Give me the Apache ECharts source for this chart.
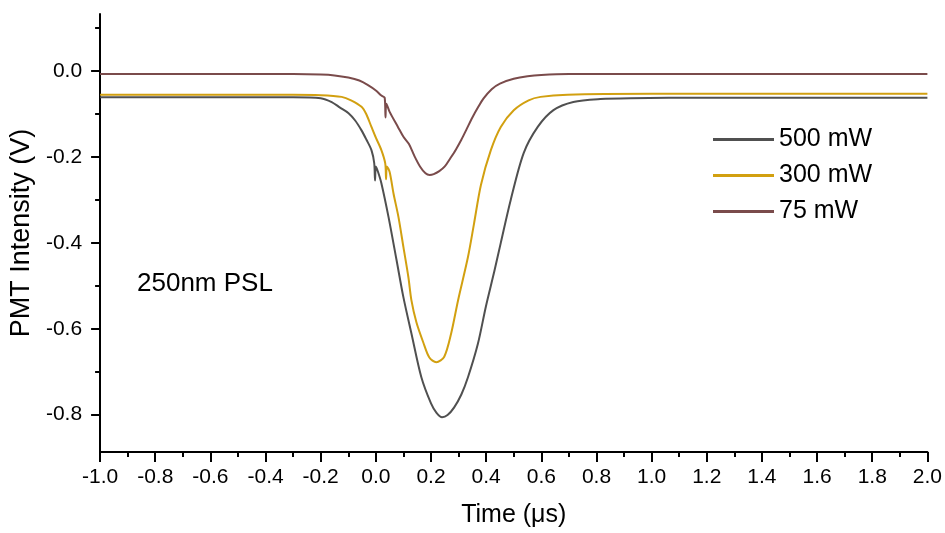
<!DOCTYPE html>
<html>
<head>
<meta charset="utf-8">
<script src="https://cdn.jsdelivr.net/npm/echarts@6/dist/echarts.min.js"></script>
<style>
html,body{margin:0;padding:0;background:#fff;}
#c{width:945px;height:533px;}
</style>
</head>
<body>
<div id="c"></div>
<script>
// ---- data ----
const seriesNames = ['500 mW', '300 mW', '75 mW'];

const t500 = [-1.0, -0.5, -0.3, -0.2, -0.16, -0.13, -0.099, -0.075, -0.052, -0.034, -0.016, -0.006, -0.003, 0.0, 0.008, 0.02, 0.046, 0.075, 0.1, 0.129, 0.165, 0.2, 0.22, 0.24, 0.26, 0.284, 0.31, 0.334, 0.37, 0.399, 0.43, 0.453, 0.489, 0.536, 0.587, 0.644, 0.716, 0.814, 0.922, 1.2, 1.6, 2.0];
const v500 = [-0.061, -0.061, -0.061, -0.063, -0.072, -0.085, -0.098, -0.115, -0.138, -0.16, -0.184, -0.214, -0.255, -0.222, -0.235, -0.261, -0.34, -0.44, -0.527, -0.611, -0.713, -0.774, -0.796, -0.806, -0.801, -0.783, -0.753, -0.713, -0.635, -0.548, -0.465, -0.4, -0.3, -0.191, -0.13, -0.091, -0.072, -0.065, -0.063, -0.062, -0.062, -0.062];

const t300 = [-1.0, -0.5, -0.3, -0.2, -0.124, -0.09, -0.052, -0.035, -0.016, 0.0, 0.02, 0.034, 0.037, 0.040, 0.05, 0.064, 0.082, 0.1, 0.118, 0.129, 0.147, 0.172, 0.194, 0.219, 0.248, 0.273, 0.298, 0.334, 0.356, 0.381, 0.417, 0.453, 0.5, 0.554, 0.597, 0.695, 1.0, 1.5, 2.0];
const v300 = [-0.055, -0.055, -0.055, -0.056, -0.06, -0.068, -0.083, -0.1, -0.13, -0.155, -0.184, -0.215, -0.252, -0.222, -0.235, -0.285, -0.34, -0.41, -0.48, -0.534, -0.585, -0.632, -0.667, -0.678, -0.665, -0.611, -0.534, -0.433, -0.355, -0.265, -0.184, -0.13, -0.091, -0.068, -0.06, -0.055, -0.053, -0.053, -0.053];

const t75 = [-1.0, -0.5, -0.3, -0.2, -0.15, -0.1, -0.06, -0.03, 0.0, 0.02, 0.032, 0.035, 0.038, 0.05, 0.08, 0.1, 0.12, 0.14, 0.16, 0.18, 0.195, 0.21, 0.23, 0.25, 0.27, 0.29, 0.31, 0.33, 0.35, 0.37, 0.39, 0.42, 0.45, 0.5, 0.55, 0.6, 0.7, 0.8, 1.0, 1.5, 2.0];
const v75 = [-0.007, -0.007, -0.007, -0.008, -0.010, -0.015, -0.022, -0.032, -0.045, -0.057, -0.062, -0.108, -0.076, -0.095, -0.13, -0.153, -0.17, -0.198, -0.222, -0.238, -0.242, -0.24, -0.233, -0.222, -0.203, -0.183, -0.16, -0.134, -0.108, -0.085, -0.064, -0.042, -0.029, -0.018, -0.012, -0.009, -0.007, -0.007, -0.007, -0.007, -0.007];

const yMajorTicks = [0.0, -0.2, -0.4, -0.6, -0.8];
const yMinorTicks = [0.1, -0.1, -0.3, -0.5, -0.7];
const annotation = '250nm PSL';
// ---------------------------------------

const FONT = '"Liberation Sans", Arial, Helvetica, sans-serif';
const colors = ['#505050', '#d2a010', '#7a4b4b'];
const zip = (t, v) => t.map((x, i) => [x, v[i]]);
const allData = [zip(t500, v500), zip(t300, v300), zip(t75, v75)];

const yMin = -0.887, yMax = 0.133;

const chart = echarts.init(document.getElementById('c'), null, {renderer: 'canvas'});
chart.setOption({
  animation: false,
  backgroundColor: '#fff',
  textStyle: {fontFamily: FONT},
  grid: {left: 97, right: 16, top: 14, bottom: 81, containLabel: false},
  xAxis: {
    type: 'value', min: -1.0, max: 2.0, interval: 0.2,
    name: 'Time (μs)', nameLocation: 'middle', nameGap: 51,
    nameTextStyle: {fontSize: 25, color: '#000', fontFamily: FONT},
    axisLine: {show: true, onZero: false, lineStyle: {color: '#000', width: 2}},
    axisTick: {show: true, length: 10, lineStyle: {color: '#000', width: 2}},
    minorTick: {show: true, splitNumber: 2, length: 5, lineStyle: {color: '#000', width: 2}},
    axisLabel: {fontSize: 21, color: '#000', margin: 15, fontFamily: FONT,
      formatter: v => v.toFixed(1)},
    splitLine: {show: false}
  },
  yAxis: [{
    type: 'value', min: yMin, max: yMax, position: 'left',
    name: 'PMT Intensity (V)', nameLocation: 'middle', nameGap: 62,
    nameTextStyle: {fontSize: 27, color: '#000', fontFamily: FONT},
    axisLine: {show: true, onZero: false, lineStyle: {color: '#000', width: 2}},
    axisTick: {show: true, length: 9, customValues: yMajorTicks, lineStyle: {color: '#000', width: 2}},
    axisLabel: {fontSize: 21, color: '#000', margin: 18, fontFamily: FONT,
      customValues: yMajorTicks, formatter: v => v.toFixed(1)},
    splitLine: {show: false}
  }, {
    type: 'value', min: yMin, max: yMax, position: 'left',
    axisLine: {show: false, onZero: false},
    axisTick: {show: true, length: 5, customValues: yMinorTicks, lineStyle: {color: '#000', width: 2}},
    axisLabel: {show: false},
    splitLine: {show: false}
  }],
  legend: {
    orient: 'vertical', left: 713, top: 127, padding: 0,
    icon: 'rect', itemWidth: 61, itemHeight: 3, itemGap: 11,
    textStyle: {fontSize: 25, color: '#000', fontFamily: FONT, lineHeight: 22},
    data: seriesNames
  },
  graphic: [{
    type: 'text', left: 137, top: 271,
    style: {text: annotation, fill: '#000', font: '26px ' + FONT}
  }],
  series: seriesNames.map((n, i) => ({
    name: n, type: 'line', data: allData[i], yAxisIndex: 0,
    symbol: 'none', smooth: 0.3,
    lineStyle: {color: colors[i], width: 2},
    itemStyle: {color: colors[i]}
  }))
});
</script>
</body>
</html>
